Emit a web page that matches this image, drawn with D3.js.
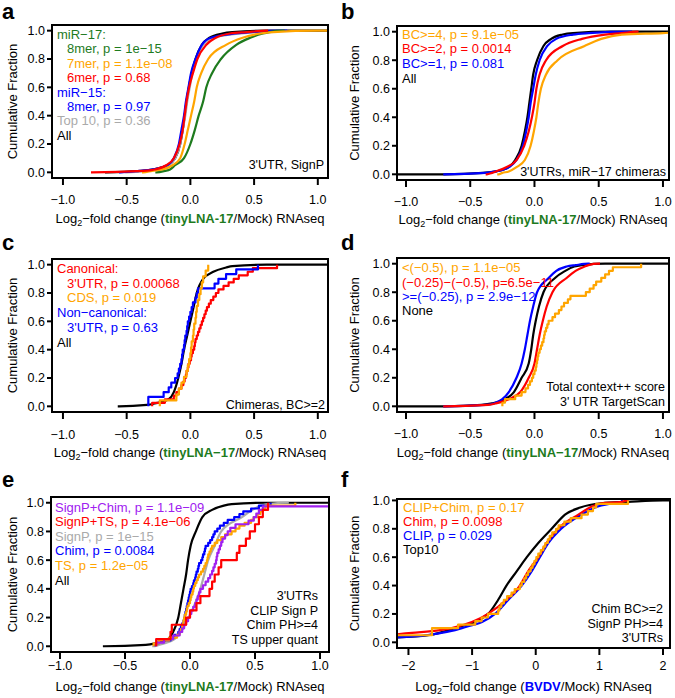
<!DOCTYPE html>
<html><head><meta charset="utf-8">
<script src="https://cdn.jsdelivr.net/npm/d3@7"></script>
<style>body{margin:0;background:#fff} svg text{font-family:"Liberation Sans",Arial,Helvetica,sans-serif}</style>
</head><body><svg id="chart" width="675" height="698"></svg>
<script>
// cumulative fractions shared by the smooth (large-n) CDF series
const cumFrac = [0,0,0.01,0.02,0.05,0.1,0.2,0.3,0.4,0.5,0.6,0.7,0.8,0.9,0.95,0.98,0.99,1,1];
const xTicks = [-1,-0.5,0,0.5,1];
const xTicksF = [-2,-1,0,1,2];
const yTicks = [0,0.2,0.4,0.6,0.8,1];

// ---- panel a ----
const a_all    = [-0.67,-0.66,-0.38,-0.3,-0.18,-0.12,-0.08,-0.06,-0.045,-0.03,-0.012,0.01,0.04,0.09,0.15,0.25,0.33,0.6,1.2];
const a_top10  = [-0.51,-0.5,-0.35,-0.28,-0.17,-0.12,-0.08,-0.06,-0.04,-0.025,-0.005,0.015,0.045,0.1,0.18,0.4,0.55,0.75,0.76];
const a_mir15  = [-0.56,-0.55,-0.4,-0.3,-0.18,-0.13,-0.09,-0.07,-0.05,-0.035,-0.015,0.005,0.04,0.09,0.16,0.35,0.47,0.75,0.76];
const a_8mer   = [-0.275,-0.265,-0.2,-0.16,-0.12,-0.05,0.0,0.035,0.065,0.1,0.125,0.17,0.24,0.36,0.47,0.57,0.62,0.73,0.74];
const a_7mer   = [-0.38,-0.37,-0.3,-0.22,-0.14,-0.08,-0.045,-0.02,0.005,0.03,0.05,0.085,0.14,0.28,0.41,0.55,0.65,1.0,1.2];
const a_6mer   = [-0.78,-0.77,-0.37,-0.28,-0.19,-0.13,-0.085,-0.06,-0.045,-0.03,-0.01,0.02,0.055,0.125,0.2,0.31,0.44,0.6,0.61];
const a_legend = ["miR\u221217:","8mer, p = 1e\u221215","7mer, p = 1.1e\u221208","6mer, p = 0.68","miR\u221215:","8mer, p = 0.97","Top 10, p = 0.36","All"];
const a_legCol = ["#1e7b1e","#1e7b1e","orange","red","blue","blue","#aaaaaa","black"];
const a_indent = [0,1,1,1,0,1,0,0];

// ---- panel b ----
const b_all = [-1.2,-0.7,-0.4,-0.3,-0.2,-0.15,-0.1,-0.075,-0.055,-0.04,-0.025,-0.01,0.02,0.07,0.13,0.22,0.3,0.6,1.2];
const b_bc1 = [-0.71,-0.7,-0.38,-0.3,-0.2,-0.14,-0.09,-0.065,-0.045,-0.03,-0.01,0.01,0.04,0.1,0.17,0.3,0.42,0.75,0.76];
const b_bc2 = [-0.38,-0.37,-0.33,-0.3,-0.22,-0.14,-0.08,-0.045,-0.02,0.0,0.015,0.04,0.09,0.22,0.37,0.55,0.68,0.8,0.81];
const b_bc4 = [-0.29,-0.28,-0.25,-0.2,-0.14,-0.075,-0.03,-0.005,0.015,0.03,0.05,0.09,0.18,0.39,0.52,0.68,1.0,1.2,1.21];
const b_legend = ["BC>=4, p = 9.1e\u221205","BC>=2, p = 0.0014","BC>=1, p = 0.081","All"];
const b_legCol = ["orange","red","blue","black"];

// ---- panel c ----
const c_all = [-0.57,-0.56,-0.34,-0.28,-0.17,-0.13,-0.095,-0.07,-0.05,-0.025,0.0,0.025,0.05,0.1,0.18,0.28,0.33,0.6,1.2];
const c_canUTR = [-0.30,-0.20,-0.13,-0.11,-0.09,-0.07,-0.055,-0.045,-0.035,-0.03,-0.02,-0.015,-0.005,0.005,0.01,0.02,0.03,0.035,0.04,0.05,0.06,0.07,0.08,0.09,0.10,0.11,0.12,0.13,0.145,0.16,0.18,0.2,0.22,0.26,0.30,0.34,0.38,0.45,0.49,0.68];
const c_canCDS = [-0.24,-0.11,-0.09,-0.07,-0.05,-0.03,-0.02,-0.01,0.0,0.005,0.01,0.02,0.025,0.03,0.04,0.045,0.05,0.06,0.07,0.08,0.09,0.1,0.12,0.14];
const c_nonUTR = [-0.33,-0.33,-0.21,-0.17,-0.15,-0.12,-0.10,-0.09,-0.08,-0.07,-0.065,-0.06,-0.05,-0.045,-0.04,-0.03,-0.025,-0.02,-0.01,0.0,0.01,0.02,0.04,0.05,0.06,0.19,0.22,0.28,0.36,0.53];
const c_legend = ["Canonical:","3'UTR, p = 0.00068","CDS, p = 0.019","Non\u2212canonical:","3'UTR, p = 0.63","All"];
const c_legCol = ["red","red","orange","blue","blue","black"];
const c_indent = [0,1,1,0,1,0];

// ---- panel d ----
const d_none = [-1.2,-0.7,-0.41,-0.33,-0.23,-0.16,-0.1,-0.045,-0.025,-0.01,0.01,0.035,0.07,0.16,0.24,0.31,0.37,0.55,1.2];
const d_ge   = [-0.71,-0.7,-0.38,-0.32,-0.25,-0.2,-0.14,-0.1,-0.075,-0.055,-0.035,-0.01,0.02,0.11,0.17,0.25,0.32,0.42,0.43];
const d_mid  = [-0.71,-0.7,-0.36,-0.3,-0.2,-0.11,-0.045,0.0,0.02,0.04,0.065,0.095,0.14,0.25,0.32,0.39,0.42,0.5,0.51];
const d_lt   = [-0.25,-0.23,-0.15,-0.1,-0.07,-0.05,-0.035,-0.02,-0.01,0.0,0.01,0.015,0.02,0.025,0.03,0.04,0.05,0.06,0.07,0.075,0.08,0.09,0.1,0.11,0.14,0.16,0.19,0.21,0.23,0.26,0.28,0.4,0.43,0.46,0.48,0.52,0.55,0.58,0.61,0.83];
const d_legend = ["<(\u22120.5), p = 1.1e\u221205","(\u22120.25)\u2212(\u22120.5), p=6.5e\u221211",">=(\u22120.25), p = 2.9e\u221212","None"];
const d_legCol = ["orange","red","blue","black"];

// ---- panel e ----
const e_all   = [-0.67,-0.66,-0.34,-0.27,-0.17,-0.13,-0.09,-0.07,-0.05,-0.03,-0.015,0.005,0.045,0.095,0.17,0.26,0.32,0.58,1.2];
const e_signP = [-0.29,-0.28,-0.24,-0.2,-0.12,-0.07,-0.01,0.04,0.08,0.11,0.14,0.19,0.24,0.4,0.48,0.55,0.6,0.75,0.76];
const e_chim  = [-0.27,-0.24,-0.15,-0.12,-0.09,-0.08,-0.07,-0.06,-0.05,-0.045,-0.04,-0.035,-0.03,-0.025,-0.02,-0.015,-0.01,-0.005,0.0,0.005,0.015,0.025,0.03,0.04,0.045,0.05,0.06,0.065,0.07,0.085,0.095,0.10,0.11,0.115,0.12,0.14,0.155,0.17,0.18,0.19,0.21,0.23,0.26,0.29,0.34,0.38,0.41,0.47,0.53,0.62];
const e_ts    = [-0.28,-0.24,-0.16,-0.1,-0.08,-0.07,-0.06,-0.055,-0.05,-0.045,-0.04,-0.03,-0.025,-0.02,-0.01,0.0,0.005,0.01,0.02,0.025,0.03,0.04,0.05,0.06,0.07,0.085,0.1,0.11,0.12,0.13,0.135,0.14,0.15,0.16,0.17,0.19,0.21,0.24,0.27,0.32,0.35,0.38,0.42,0.47,0.49,0.52,0.54,0.56,0.58,0.81];
const e_signPChim = [-0.26,-0.2,-0.13,-0.08,-0.06,-0.045,-0.03,-0.015,0.0,0.01,0.025,0.04,0.05,0.06,0.07,0.08,0.1,0.12,0.14,0.155,0.17,0.18,0.19,0.2,0.205,0.21,0.22,0.23,0.24,0.25,0.27,0.29,0.31,0.35,0.45,0.49,0.51,0.53,0.56,1.3];
const e_signPTS = [-0.26,-0.15,-0.14,-0.03,0.0,0.05,0.08,0.15,0.17,0.19,0.22,0.24,0.36,0.38,0.43,0.46,0.5,0.53,0.56,0.6];
const e_legend = ["SignP+Chim, p = 1.1e\u221209","SignP+TS, p = 4.1e\u221206","SignP, p = 1e\u221215","Chim, p = 0.0084","TS, p = 1.2e\u221205","All"];
const e_legCol = ["#a020f0","red","#aaaaaa","blue","orange","black"];

// ---- panel f ----
const f_top10 = [-3.0,-2.9,-2.8,-2.7,-1.69,-1.27,-0.75,-0.59,-0.46,-0.3,-0.14,0.04,0.25,0.46,0.7,1.03,1.45,2.0,2.5];
const f_clip  = [-3.0,-2.9,-2.8,-2.7,-1.72,-1.16,-0.64,-0.43,-0.22,-0.065,0.065,0.2,0.4,0.72,0.93,1.2,1.35,1.36,1.37];
const f_chim  = [-3.0,-2.9,-2.8,-2.7,-2.3,-1.32,-0.75,-0.46,-0.25,-0.12,0.04,0.17,0.35,0.67,0.85,1.03,1.35,1.45,1.46];
const f_clipChim = [-2.5,-2.4,-1.63,-1.63,-1.22,-0.95,-0.85,-0.75,-0.59,-0.57,-0.54,-0.5,-0.45,-0.38,-0.33,-0.25,-0.22,-0.18,-0.15,-0.12,-0.08,-0.05,-0.02,0.01,0.04,0.08,0.12,0.15,0.19,0.22,0.26,0.32,0.36,0.45,0.55,0.72,0.82,0.9,0.95,1.45];
const f_legend = ["CLIP+Chim, p = 0.17","Chim, p = 0.0098","CLIP, p = 0.029","Top10"];
const f_legCol = ["orange","red","blue","black"];

const panels = [
  {id:"a", L:52, T:25, R:328, B:178, xd:[-1.086,1.08], yd:[-0.04,1.04], ticks:xTicks, fmt:".1f",
   lab:[2,19], ytX:12, xlabY:200, xtY:218, legX:57, legY:34.5, legDy:14.4, legend:a_legend, legCol:a_legCol, indent:a_indent,
   noteX:324, noteY:[165], notes:["3'UTR, SignP"], hl:"tinyLNA-17", hlCol:"#1e7b1e",
   series:[{v:a_all,c:"black"},{v:a_top10,c:"#aaaaaa"},{v:a_mir15,c:"blue"},{v:a_8mer,c:"#1e7b1e"},{v:a_7mer,c:"orange"},{v:a_6mer,c:"red"}]},
  {id:"b", L:397, T:26, R:669, B:180, xd:[-1.07,1.047], yd:[-0.04,1.04], ticks:xTicks, fmt:".1f",
   lab:[341,19], ytX:354, xlabY:202, xtY:219, legX:402, legY:34.3, legDy:14.6, legend:b_legend, legCol:b_legCol,
   noteX:666, noteY:[172], notes:["3'UTRs, miR\u221217 chimeras"], hl:"tinyLNA-17", hlCol:"#1e7b1e",
   series:[{v:b_all,c:"black"},{v:b_bc1,c:"blue"},{v:b_bc2,c:"red"},{v:b_bc4,c:"orange"}]},
  {id:"c", L:52, T:259, R:328, B:412, xd:[-1.086,1.08], yd:[-0.04,1.04], ticks:xTicks, fmt:".1f",
   lab:[2,250], ytX:12, xlabY:435, xtY:452, legX:57, legY:268.5, legDy:14.7, legend:c_legend, legCol:c_legCol, indent:c_indent,
   noteX:325, noteY:[405], notes:["Chimeras, BC>=2"], hl:"tinyLNA\u221217", hlCol:"#1e7b1e",
   series:[{v:c_all,c:"black"},{v:c_canUTR,c:"red",step:1},{v:c_nonUTR,c:"blue",step:1},{v:c_canCDS,c:"orange",step:1}]},
  {id:"d", L:397, T:258, R:669, B:412, xd:[-1.07,1.047], yd:[-0.04,1.04], ticks:xTicks, fmt:".1f",
   lab:[341,250], ytX:354, xlabY:434, xtY:452, legX:402, legY:267.7, legDy:14.3, legend:d_legend, legCol:d_legCol,
   noteX:665, noteY:[387,401.5], notes:["Total context++ score","3' UTR TargetScan"], hl:"tinyLNA\u221217", hlCol:"#1e7b1e",
   series:[{v:d_none,c:"black"},{v:d_ge,c:"blue"},{v:d_mid,c:"red"},{v:d_lt,c:"orange",step:1}]},
  {id:"e", L:51, T:497, R:329, B:652, xd:[-1.069,1.069], yd:[-0.04,1.04], ticks:xTicks, fmt:".1f",
   lab:[2,487], ytX:12, xlabY:666, xtY:686, legX:55, legY:507, legDy:14.6, legend:e_legend, legCol:e_legCol,
   noteX:318, noteY:[596,610.5,625,639.5], notes:["3'UTRs","CLIP Sign P","Chim PH>=4","TS upper quant"], hl:"tinyLNA-17", hlCol:"#1e7b1e",
   series:[{v:e_all,c:"black"},{v:e_signP,c:"#aaaaaa"},{v:e_chim,c:"blue",step:1},{v:e_ts,c:"orange",step:1},{v:e_signPChim,c:"#a020f0",step:1},{v:e_signPTS,c:"red",step:1}]},
  {id:"f", L:397, T:499, R:670, B:648, xd:[-2.18,2.11], yd:[-0.04,1.01], ticks:xTicksF, fmt:".0f",
   lab:[341,487], ytX:354, xlabY:666, xtY:686, legX:403, legY:507, legDy:14.3, legend:f_legend, legCol:f_legCol,
   noteX:663, noteY:[609,623.5,638], notes:["Chim BC>=2","SignP PH>=4","3'UTRs"], hl:"BVDV", hlCol:"#0000ff",
   series:[{v:f_top10,c:"black"},{v:f_clip,c:"blue"},{v:f_chim,c:"red"},{v:f_clipChim,c:"orange",step:1}]}
];

const svg = d3.select("#chart");
const defs = svg.append("defs");

panels.forEach(p => {
  const x = d3.scaleLinear().domain(p.xd).range([p.L, p.R]);
  const y = d3.scaleLinear().domain(p.yd).range([p.B, p.T]);
  const g = svg.append("g");
  defs.append("clipPath").attr("id","clip-"+p.id).append("rect")
    .attr("x",p.L).attr("y",p.T).attr("width",p.R-p.L).attr("height",p.B-p.T);
  const cg = g.append("g").attr("clip-path","url(#clip-"+p.id+")");

  // legend text
  p.legend.forEach((t,i) => {
    g.append("text").attr("x", p.legX + (p.indent && p.indent[i] ? 10 : 0))
      .attr("y", p.legY + i*p.legDy).attr("dy","0.35em")
      .attr("font-size",13).attr("fill",p.legCol[i]).text(t);
  });
  // notes bottom-right
  p.notes.forEach((t,i) => {
    g.append("text").attr("x",p.noteX).attr("y",p.noteY[i]).attr("dy","0.35em")
      .attr("text-anchor","end").attr("font-size",12.5).attr("fill","black").text(t);
  });

  // curves
  p.series.forEach(s => {
    let pts, curve;
    if (s.step) {
      const n = s.v.length;
      pts = [[s.v[0],0]].concat(s.v.map((v,i)=>[v,(i+1)/n]));
      curve = d3.curveStepAfter;
    } else {
      pts = s.v.map((v,i)=>[v,cumFrac[i]]);
      curve = d3.curveMonotoneX;
    }
    cg.append("path").attr("d", d3.line().x(d=>x(d[0])).y(d=>y(d[1])).curve(curve)(pts))
      .attr("fill","none").attr("stroke",s.c).attr("stroke-width",2.2).attr("stroke-linejoin","round");
  });

  // box
  g.append("rect").attr("x",p.L).attr("y",p.T).attr("width",p.R-p.L).attr("height",p.B-p.T)
    .attr("fill","none").attr("stroke","black").attr("stroke-width",2);

  // y axis
  yTicks.forEach(t => {
    g.append("line").attr("x1",p.L-5).attr("x2",p.L).attr("y1",y(t)).attr("y2",y(t))
      .attr("stroke","black").attr("stroke-width",2);
    g.append("text").attr("x",p.L-7).attr("y",y(t)).attr("dy","0.35em").attr("text-anchor","end")
      .attr("font-size",12.5).text(d3.format(".1f")(t));
  });
  // x axis
  const fmt = d3.format(p.fmt);
  p.ticks.forEach(t => {
    g.append("line").attr("x1",x(t)).attr("x2",x(t)).attr("y1",p.B+1).attr("y2",p.B+7)
      .attr("stroke","black").attr("stroke-width",2);
    g.append("text").attr("x",x(t)).attr("y",p.xlabY).attr("dy","0.35em").attr("text-anchor","middle")
      .attr("font-size",12.5).text(fmt(t));
  });
  // axis titles
  g.append("text").attr("transform",`translate(${p.ytX},${(p.T+p.B)/2}) rotate(-90)`)
    .attr("dy","0.35em").attr("text-anchor","middle").attr("font-size",13).text("Cumulative Fraction");
  const xt = g.append("text").attr("x",(p.L+p.R)/2).attr("y",p.xtY).attr("dy","0.35em")
    .attr("text-anchor","middle").attr("font-size",13);
  xt.append("tspan").text("Log");
  xt.append("tspan").attr("font-size",9).attr("dy",3).text("2");
  xt.append("tspan").attr("dy",-3).text("\u2212fold change (");
  xt.append("tspan").attr("font-weight","bold").attr("fill",p.hlCol).text(p.hl);
  xt.append("tspan").text("/Mock) RNAseq");

  // panel letter
  g.append("text").attr("x",p.lab[0]).attr("y",p.lab[1]).attr("font-size",22)
    .attr("font-weight","bold").text(p.id);
});
</script></body></html>
